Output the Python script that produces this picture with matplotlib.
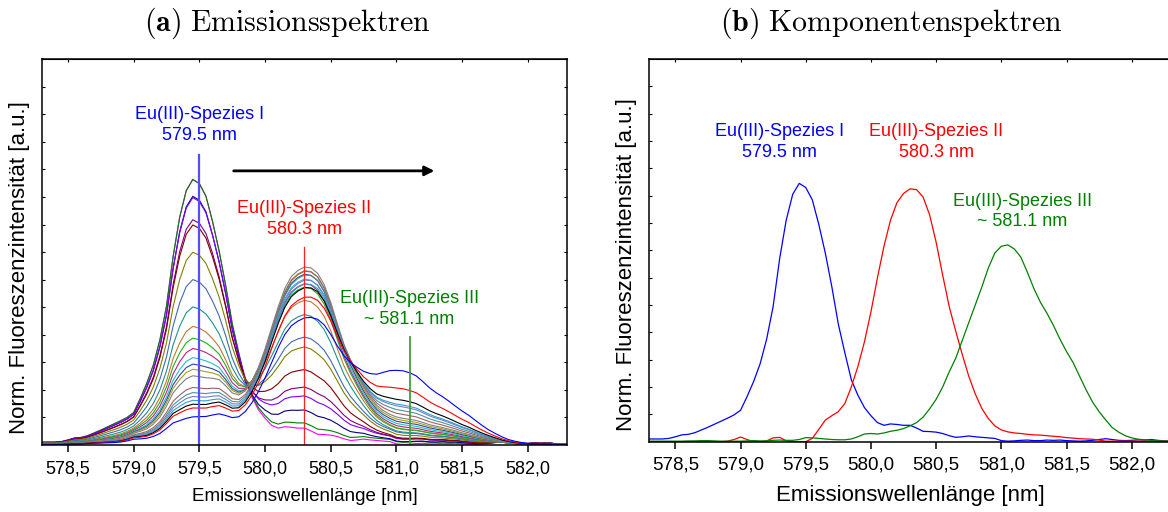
import numpy as np
import matplotlib
matplotlib.use("Agg")
import matplotlib.pyplot as plt

plt.rcParams['font.family'] = ['Liberation Sans', 'DejaVu Sans']
plt.rcParams['mathtext.fontset'] = 'cm'

# wavelength grid (nm), 0.05 nm steps from 578.30 to 582.30
wl = np.round(np.linspace(578.3, 582.3, 81), 2)

# component spectra (panel b)
comp_I = [0.10, 0.10, 0.10, 0.12, 0.18, 0.25, 0.27, 0.33, 0.43, 0.53,
          0.64, 0.75, 0.86, 0.98, 1.15, 1.65, 2.20, 2.85, 3.75, 4.95,
          6.70, 8.10, 9.05, 9.45, 9.30, 8.85, 7.95, 6.90, 5.67, 4.30,
          3.25, 2.26, 1.70, 1.25, 0.95, 0.70, 0.60, 0.65, 0.63, 0.60,
          0.60, 0.50, 0.38, 0.37, 0.35, 0.30, 0.22, 0.16, 0.18, 0.21,
          0.18, 0.16, 0.14, 0.12, 0.04, 0.02, 0.03, 0.05, 0.06, 0.04,
          0.04, 0.06, 0.05, 0.06, 0.04, 0.03, 0.02, 0.03, 0.05, 0.08,
          0.11, 0.08, 0.05, 0.04, 0.05, 0.07, 0.06, 0.08, 0.05, 0.03,
          0.02]
comp_II = [0.00, 0.00, 0.00, 0.00, 0.00, 0.00, 0.00, 0.01, 0.01, 0.00,
           0.00, 0.00, 0.02, 0.08, 0.17, 0.08, 0.00, 0.00, 0.03, 0.14,
           0.16, 0.03, 0.00, 0.00, 0.00, 0.12, 0.45, 0.79, 0.95, 1.10,
           1.40, 2.01, 2.75, 3.65, 4.75, 6.00, 7.15, 8.10, 8.75, 9.08,
           9.25, 9.22, 8.95, 8.30, 7.30, 6.10, 4.95, 4.05, 3.20, 2.40,
           1.75, 1.22, 0.85, 0.58, 0.43, 0.36, 0.32, 0.30, 0.27, 0.25,
           0.24, 0.22, 0.20, 0.18, 0.15, 0.13, 0.11, 0.10, 0.09, 0.06,
           0.02, 0.02, 0.02, 0.02, 0.02, 0.02, 0.02, 0.02, 0.02, 0.02,
           0.02]
comp_III = [0.02, 0.02, 0.02, 0.02, 0.02, 0.02, 0.03, 0.03, 0.04, 0.04,
            0.03, 0.02, 0.02, 0.02, 0.02, 0.03, 0.04, 0.03, 0.03, 0.05,
            0.06, 0.05, 0.05, 0.08, 0.15, 0.14, 0.12, 0.10, 0.08, 0.07,
            0.07, 0.10, 0.18, 0.28, 0.30, 0.28, 0.32, 0.38, 0.42, 0.48,
            0.58, 0.70, 0.90, 1.20, 1.55, 2.00, 2.55, 3.05, 3.70, 4.35,
            5.00, 5.65, 6.35, 6.90, 7.15, 7.20, 7.05, 6.75, 6.20, 5.60,
            5.10, 4.70, 4.25, 3.75, 3.30, 2.90, 2.40, 1.90, 1.45, 1.10,
            0.80, 0.52, 0.35, 0.22, 0.14, 0.09, 0.07, 0.05, 0.03, 0.02,
            0.02]

# emission spectra (panel a): share of each component per measured spectrum
spec_colors = ['#ff00ff', '#008000', '#000080', '#8000ff', '#800080', '#800000',
               '#808000', '#4169b0', '#1e9090', '#c07830', '#20b020', '#c02080',
               '#20c0d0', '#304890', '#a0a020', '#808080', '#a06060', '#5090a0',
               '#7080c0', '#30a0d0', '#000000', '#ff0000', '#0000ff']
share_I = [1.02, 1.02, 0.955, 0.95, 0.865, 0.845, 0.74, 0.635, 0.53, 0.455, 0.41, 0.37,
           0.335, 0.31, 0.29, 0.265, 0.22, 0.20, 0.185, 0.17, 0.155, 0.14, 0.105]
share_II = [0.0, 0.02, 0.075, 0.13, 0.17, 0.24, 0.335, 0.38, 0.475, 0.535, 0.59, 0.605,
            0.625, 0.645, 0.66, 0.675, 0.66, 0.645, 0.625, 0.61, 0.595, 0.555, 0.47]
share_III = [0.0, 0.01, 0.01, 0.02, 0.02, 0.02, 0.03, 0.04, 0.04, 0.05, 0.05, 0.06,
             0.07, 0.08, 0.09, 0.10, 0.12, 0.14, 0.16, 0.17, 0.195, 0.255, 0.35]

xticks = [578.5, 579.0, 579.5, 580.0, 580.5, 581.0, 581.5, 582.0]
xticklabels = ['578,5', '579,0', '579,5', '580,0', '580,5', '581,0', '581,5', '582,0']

species = ['Eu(III)-Spezies I\n579.5 nm', 'Eu(III)-Spezies II\n580.3 nm',
           'Eu(III)-Spezies III\n~ 581.1 nm']
species_colors = ['#0000ff', '#ff0000', '#008000']
peak_pos = [579.5, 580.3, 581.1]

ylabel = 'Norm. Fluoreszenzintensität [a.u.]'
xlabel = 'Emissionswellenlänge [nm]'


def style_axes(ax, fs_tick, fs_xlab):
    ax.set_xlim(578.3, 582.3)
    ax.set_ylim(0, 14)
    ax.set_xticks(xticks)
    ax.set_xticklabels(xticklabels, fontsize=fs_tick)
    ax.set_yticks(range(1, 14))
    ax.tick_params(axis='x', direction='out', length=5, width=1.1, pad=6)
    ax.tick_params(axis='y', left=True, right=True, direction='in', length=2.5,
                   width=0.8, labelleft=False)
    top = ax.secondary_xaxis('top')
    top.set_xticks(xticks)
    top.tick_params(direction='in', length=2.5, width=0.8, labeltop=False)
    for s in ax.spines.values():
        s.set_linewidth(1.1)
    ax.set_xlabel(xlabel, fontsize=fs_xlab, labelpad=8)


fig = plt.figure(figsize=(11.68, 5.12), dpi=100)

# (a) Emissionsspektren
ax1 = fig.add_axes([0.0357, 0.1309, 0.45, 0.7533])
for col, a, b, c in zip(spec_colors, share_I, share_II, share_III):
    y = a * np.array(comp_I) + b * np.array(comp_II) + c * np.array(comp_III)
    ax1.plot(wl, y, color=col, lw=0.8)
line_tops = [10.53, 7.19, 3.93]
line_cols = ['#5050ff', '#ff2020', '#40a040']
line_w = [1.6, 0.9, 1.3]
text_y = [11.62, 8.2, 4.95]
for x, top, col, lw, t, ty, tc in zip(peak_pos, line_tops, line_cols, line_w,
                                      species, text_y, species_colors):
    ax1.plot([x, x], [0, top], color=col, lw=lw)
    ax1.text(x, ty, t, color=tc, fontsize=13, ha='center', va='center',
             linespacing=1.3)
ax1.annotate('', xy=(581.31, 9.95), xytext=(579.74, 9.95),
             arrowprops=dict(arrowstyle='-|>', color='black', lw=2,
                             mutation_scale=14))
style_axes(ax1, 13, 13.5)
ax1.set_ylabel(ylabel, fontsize=16)
ax1.yaxis.set_label_coords(-0.023, 0.46)
fig.text(0.2457, 0.955, r'$\mathbf{(a)}\ \mathrm{Emissionsspektren}$',
         fontsize=21.5, ha='center', va='center')

# (b) Komponentenspektren
ax2 = fig.add_axes([0.5559, 0.1373, 0.4465, 0.7475])
for comp, col in zip([comp_I, comp_II, comp_III], species_colors):
    ax2.plot(wl, comp, color=col, lw=0.9)
text_pos = [(579.30, 10.95), (580.50, 10.95), (581.16, 8.42)]
for (x, y), t, col in zip(text_pos, species, species_colors):
    ax2.text(x, y, t, color=col, fontsize=13, ha='center', va='center',
             linespacing=1.3)
style_axes(ax2, 13.5, 16)
ax2.set_ylabel(ylabel, fontsize=16)
ax2.yaxis.set_label_coords(-0.023, 0.462)
fig.text(0.763, 0.955, r'$\mathbf{(b)}\ \mathrm{Komponentenspektren}$',
         fontsize=21.5, ha='center', va='center')

fig.savefig('out.png', dpi=100)
